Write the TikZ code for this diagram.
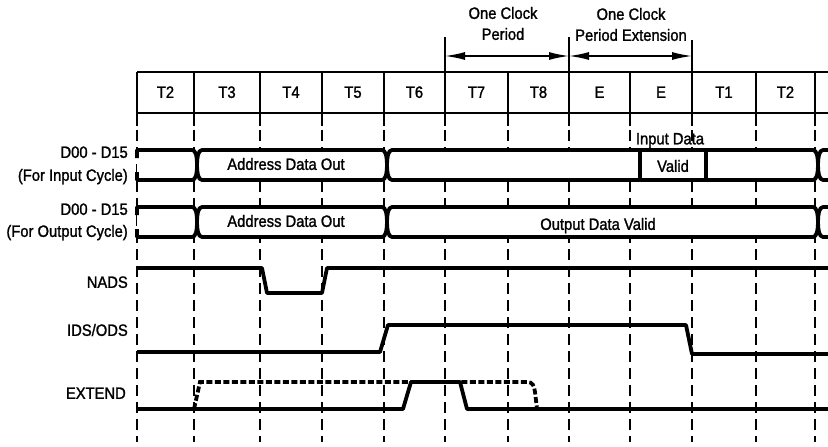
\documentclass[tikz,border=0pt]{standalone}
\usepackage{fontspec}
\setmainfont{Liberation Sans}[FakeStretch=0.9,FakeBold=1.4]
\usetikzlibrary{arrows.meta}
\newcommand{\mybusseg}[4]{%
 \draw[bus] ({#1},{(#3+#4)/2}) .. controls ({#1},{#3+8}) and ({#1+1},{#3}) .. ({#1+5},{#3})
   -- ({#2-5},{#3}) .. controls ({#2-1},{#3}) and ({#2},{#3+8}) .. ({#2},{(#3+#4)/2})
   .. controls ({#2},{#4-8}) and ({#2-1},{#4}) .. ({#2-5},{#4})
   -- ({#1+5},{#4}) .. controls ({#1+1},{#4}) and ({#1},{#4-8}) .. cycle;}
\begin{document}
\begin{tikzpicture}[x=1pt,y=-1pt,
  lbl/.style={font=\fontsize{16.4}{18}\selectfont, inner sep=0pt, text height=11.7pt, text depth=0pt},
  boxline/.style={line width=2.4pt},
  gridline/.style={line width=2pt, dash pattern=on 11pt off 6pt},
  sig/.style={line width=3.8pt, line join=round},
  bus/.style={line width=3.8pt, fill=white, line join=round},
  ext/.style={line width=3.8pt, dash pattern=on 6pt off 2.5pt},
  dim/.style={line width=1.6pt, {Latex[length=20pt,width=8pt]}-{Latex[length=20pt,width=8pt]}}]
\useasboundingbox (0,0) rectangle (828,447);
% dashed grid lines
\foreach \x in {137,194,260,322,384,445,508,569,630,692,756,815}
  \draw[gridline] (\x,130) -- (\x,442);
% clock box
\draw[boxline] (137,72) -- (828,72);
\draw[boxline] (137,113) -- (828,113);
\foreach \x in {137,194,260,322,384,508,630,756,815}
  \draw[boxline] (\x,72) -- (\x,126);
\coordinate (m1t) at (445,37); \coordinate (m1b) at (445,126);
\coordinate (m2t) at (569,37); \coordinate (m2b) at (569,126);
\coordinate (m3t) at (692,40); \coordinate (m3b) at (692,126);
\draw[boxline] (m1t) -- (m1b);
\draw[boxline] (m2t) -- (m2b);
\draw[boxline] (m3t) -- (m3b);
% cell labels
\node[lbl] (c1) at (165.5,92) {T2};
\node[lbl] (c2) at (227,92) {T3};
\node[lbl] (c3) at (291,92) {T4};
\node[lbl] (c4) at (353,92) {T5};
\node[lbl] (c5) at (414.5,92) {T6};
\node[lbl] (c6) at (476.5,92) {T7};
\node[lbl] (c7) at (538.5,92) {T8};
\node[lbl] (c8) at (599.5,92) {E};
\node[lbl] (c9) at (661,92) {E};
\node[lbl] (c10) at (724,92) {T1};
\node[lbl] (c11) at (785.5,92) {T2};
% period annotations
\node[lbl] (p1a) at (503,13) {One Clock};
\node[lbl] (p1b) at (503,34) {Period};
\node[lbl] (p2a) at (631,14) {One Clock};
\node[lbl] (p2b) at (631,35) {Period Extension};
\coordinate (a1) at (445,56);
\coordinate (a2) at (569,56);
\coordinate (a3) at (692,56);
\draw[dim] (a1) -- (a2);
\draw[dim] (a2) -- (a3);
% row 1: D00-D15 input cycle
\draw[bus] (137,158) -- (137,150) -- (192,150) .. controls (196,150) and (197,157) .. (197,165)
  .. controls (197,173) and (196,180) .. (192,180) -- (137,180) -- (137,172);
\mybusseg{197}{387}{150}{180}
\mybusseg{387}{818}{150}{180}
\mybusseg{818}{1000}{150}{180}
\draw[sig] (640,150) -- (640,180);
\draw[sig] (706,150) -- (706,180);
\node[lbl] (r1a) at (286,164) {Address Data Out};
\node[lbl] (r1b) at (670,138.5) {Input Data};
\node[lbl] (r1c) at (673,166) {Valid};
\node[lbl, anchor=east] (l1a) at (128,152) {D00 - D15};
\node[lbl, anchor=east] (l1b) at (128,175) {(For Input Cycle)};
% row 2: D00-D15 output cycle
\draw[bus] (137,215) -- (137,207) -- (192,207) .. controls (196,207) and (197,214) .. (197,222)
  .. controls (197,230) and (196,237) .. (192,237) -- (137,237) -- (137,229);
\mybusseg{197}{387}{207}{237}
\mybusseg{387}{818}{207}{237}
\mybusseg{818}{1000}{207}{237}
\node[lbl] (r2a) at (286,221) {Address Data Out};
\node[lbl] (r2b) at (598,224) {Output Data Valid};
\node[lbl, anchor=east] (l2a) at (128,209) {D00 - D15};
\node[lbl, anchor=east] (l2b) at (128,231) {(For Output Cycle)};
% NADS
\draw[sig] (137,268) -- (262,268) -- (267,293) -- (322,293) -- (327,268) -- (828,268);
\node[lbl, anchor=east] (l3) at (128,282) {NADS};
% IDS/ODS
\draw[sig] (137,352) -- (380,352) -- (388,325) -- (686,325) -- (692,354) -- (828,354);
\node[lbl, anchor=east] (l4) at (128,330) {IDS/ODS};
% EXTEND
\draw[sig] (137,409) -- (403,409) -- (411,382) -- (460,382) -- (467,409) -- (828,409);
\draw[ext] (194,409) -- (200,382) -- (527,382) .. controls (533,382) and (534,386) .. (535,392) -- (537,409);
\node[lbl, anchor=east] (l5) at (126,393) {EXTEND};
\end{tikzpicture}
\end{document}
